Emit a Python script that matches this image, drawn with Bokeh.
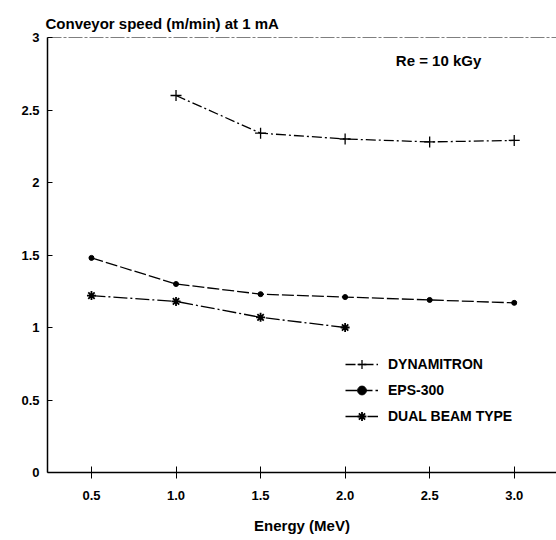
from bokeh.plotting import figure
from bokeh.models import FixedTicker, Span, Label, Legend, LegendItem
from bokeh.embed import file_html
from bokeh.resources import INLINE

# Data
dyn_energy = [1.0, 1.5, 2.0, 2.5, 3.0]
dyn_speed = [2.60, 2.34, 2.30, 2.28, 2.29]
eps_energy = [0.5, 1.0, 1.5, 2.0, 2.5, 3.0]
eps_speed = [1.48, 1.30, 1.23, 1.21, 1.19, 1.17]
dual_energy = [0.5, 1.0, 1.5, 2.0]
dual_speed = [1.22, 1.18, 1.07, 1.00]
x_ticks = [0.5, 1.0, 1.5, 2.0, 2.5, 3.0]
x_tick_labels = ["0.5", "1.0", "1.5", "2.0", "2.5", "3.0"]
y_ticks = [0, 0.5, 1, 1.5, 2, 2.5, 3]
y_tick_labels = ["0", "0.5", "1", "1.5", "2", "2.5", "3"]

FONT = "Liberation Sans"

p = figure(width=556, height=540, output_backend="svg", toolbar_location=None,
           x_range=(0.24, 3.25), y_range=(0, 3.0),
           min_border_left=47, min_border_right=0, min_border_top=37, min_border_bottom=68)
p.outline_line_color = None
p.grid.visible = False
p.background_fill_color = "white"

p.title.text = "Conveyor speed (m/min) at 1 mA"
p.title.text_font = FONT
p.title.text_font_size = "15px"
p.title.text_font_style = "bold"
p.title.text_color = "black"
p.title.offset = -2
p.title.standoff = 12

p.xaxis.ticker = FixedTicker(ticks=x_ticks)
p.xaxis.major_label_overrides = {t: l for t, l in zip(x_ticks, x_tick_labels)}
p.yaxis.ticker = FixedTicker(ticks=y_ticks)
p.yaxis.major_label_overrides = {t: l for t, l in zip(y_ticks, y_tick_labels)}

for ax in (p.xaxis, p.yaxis):
    ax.axis_line_color = "black"
    ax.axis_line_width = 1.5
    ax.major_tick_line_color = "black"
    ax.minor_tick_line_color = None
    ax.major_label_text_font = FONT
    ax.major_label_text_font_size = "13px"
    ax.major_label_text_font_style = "bold"
    ax.major_label_text_color = "black"

p.xaxis.major_tick_in = 6
p.xaxis.major_tick_out = 6
p.xaxis.major_label_standoff = 12
p.yaxis.major_tick_in = 5
p.yaxis.major_tick_out = 0
p.yaxis.major_label_standoff = 8

p.xaxis.axis_label = "Energy (MeV)"
p.xaxis.axis_label_text_font = FONT
p.xaxis.axis_label_text_font_size = "15px"
p.xaxis.axis_label_text_font_style = "bold"
p.xaxis.axis_label_text_color = "black"
p.xaxis.axis_label_standoff = 14

p.add_layout(Span(location=3.0, dimension="width", line_color="black", line_width=1.2,
                  line_dash="14 2 3 2"))

l1 = p.line(dyn_energy, dyn_speed, line_color="black", line_width=1.3, line_dash="10 3 2 3")
m1 = p.scatter(dyn_energy, dyn_speed, marker="cross", size=11, line_color="black", line_width=1.3)
l2 = p.line(eps_energy, eps_speed, line_color="black", line_width=1.3, line_dash="12 3")
m2 = p.scatter(eps_energy, eps_speed, marker="circle", size=5, fill_color="black", line_color="black")
l3 = p.line(dual_energy, dual_speed, line_color="black", line_width=1.3, line_dash="14 3 2 3")
m3 = p.scatter(dual_energy, dual_speed, marker="asterisk", size=9, line_color="black", line_width=1.8)

legend = Legend(items=[
    LegendItem(label="DYNAMITRON", renderers=[l1, m1]),
    LegendItem(label="EPS-300", renderers=[l2, m2]),
    LegendItem(label="DUAL BEAM TYPE", renderers=[l3, m3]),
], location=(298, 44))
legend.border_line_alpha = 0
legend.background_fill_alpha = 0
legend.padding = 0
legend.spacing = 2
legend.glyph_width = 33
legend.label_standoff = 10
legend.label_text_font = FONT
legend.label_text_font_size = "14px"
legend.label_text_font_style = "bold"
legend.label_text_color = "black"
legend.label_height = 24
legend.glyph_height = 22
p.add_layout(legend)

p.add_layout(Label(x=2.30, y=2.84, text="Re = 10 kGy", text_font=FONT, text_font_size="15px",
                   text_font_style="bold", text_baseline="middle", text_color="black"))

open("out.html", "w").write(file_html(p, INLINE))
